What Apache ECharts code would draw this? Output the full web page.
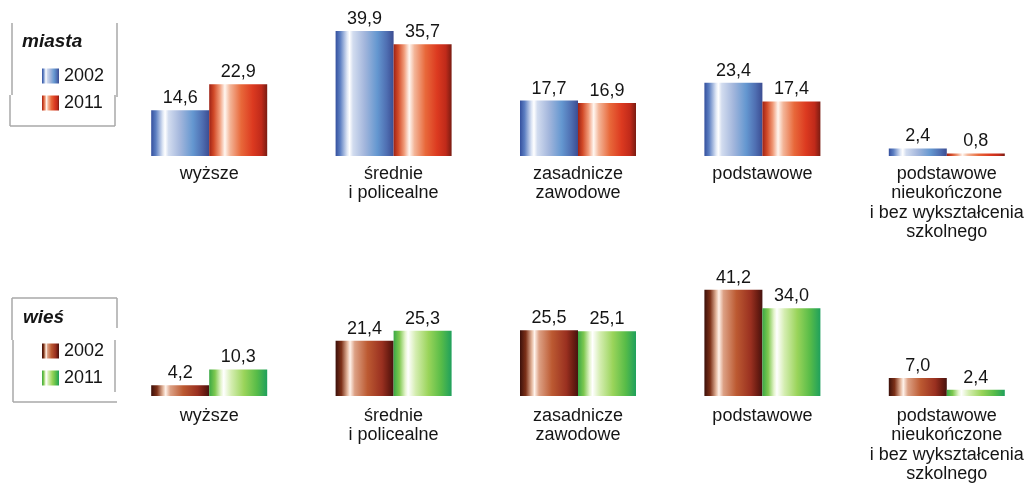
<!DOCTYPE html>
<html>
<head>
<meta charset="utf-8">
<script src="https://cdn.jsdelivr.net/npm/echarts@6/dist/echarts.min.js"></script>
<style>
html,body{margin:0;padding:0;background:#fff;}
#chart{width:1027px;height:486px;}
</style>
</head>
<body>
<div id="chart"></div>
<script>
const categories = ['wyższe', 'średnie\ni policealne', 'zasadnicze\nzawodowe', 'podstawowe', 'podstawowe\nnieukończone\ni bez wykształcenia\nszkolnego'];
const years = ['2002', '2011'];
const miasta2002 = [14.6, 39.9, 17.7, 23.4, 2.4];
const miasta2011 = [22.9, 35.7, 16.9, 17.4, 0.8];
const wies2002 = [4.2, 21.4, 25.5, 41.2, 7.0];
const wies2011 = [10.3, 25.3, 25.1, 34.0, 2.4];

function grad(stops) {
  return {type: 'linear', x: 0, y: 0, x2: 1, y2: 0,
    colorStops: stops.map(s => ({offset: s[0], color: s[1]}))};
}
const blue = grad([[0,'#34509e'],[0.08,'#5d7fc2'],[0.2,'#dfe7f5'],[0.24,'#ffffff'],[0.3,'#d2dcef'],[0.5,'#a3b6dc'],[0.72,'#6497d0'],[0.88,'#4f6fb2'],[1,'#3c4d92']]);
const red = grad([[0,'#9e2216'],[0.08,'#d24a28'],[0.18,'#f09a78'],[0.27,'#fff6f0'],[0.36,'#f3b598'],[0.55,'#e8683a'],[0.75,'#dc3a20'],[0.9,'#c02a1a'],[1,'#7a1c12']]);
const brown = grad([[0,'#3c100a'],[0.1,'#7c3018'],[0.2,'#e2b49a'],[0.25,'#fff2ea'],[0.33,'#dca084'],[0.55,'#bc5a32'],[0.8,'#9a3020'],[0.92,'#6a1c12'],[1,'#461410']]);
const green = grad([[0,'#3aa844'],[0.1,'#7ec850'],[0.2,'#e4f4cc'],[0.25,'#ffffff'],[0.38,'#d4edb0'],[0.6,'#9ad45a'],[0.82,'#58bc48'],[1,'#1fa05c']]);

const FONT = "'Liberation Sans', Arial, sans-serif";
const fmt = p => p.value.toFixed(1).replace('.', ',');
const labelCfg = {show: true, position: 'top', distance: 3, formatter: fmt,
  fontFamily: FONT, fontSize: 18, color: '#151515'};

function bar(name, data, color, idx) {
  return {name: name, type: 'bar', data: data, xAxisIndex: idx, yAxisIndex: idx,
    barWidth: 58, barGap: '0%', itemStyle: {color: color}, label: labelCfg,
    emphasis: {disabled: true}, animation: false};
}
function xAx(idx, margin) {
  return {type: 'category', gridIndex: idx, data: categories,
    axisLine: {show: false}, axisTick: {show: false},
    axisLabel: {interval: 0, margin: margin, fontFamily: FONT, fontSize: 18,
      lineHeight: 19.5, color: '#151515'}};
}
function yAx(idx) {
  return {type: 'value', gridIndex: idx, min: 0, max: 45, show: false, splitLine: {show: false}};
}
function legend(top, names) {
  return {orient: 'vertical', left: 42, top: top, padding: 0, itemWidth: 17, itemHeight: 15, itemGap: 9,
    icon: 'rect', data: names, formatter: n => n.slice(1),
    textStyle: {fontFamily: FONT, fontSize: 18, color: '#151515'}};
}
const lc = {stroke: '#a8a8a8', lineWidth: 1.5};
function ln(x1, y1, x2, y2) {
  return {type: 'line', shape: {x1, y1, x2, y2}, style: lc, silent: true};
}

const chart = echarts.init(document.getElementById('chart'), null, {renderer: 'canvas'});
chart.setOption({
  backgroundColor: '#ffffff',
  animation: false,
  grid: [
    {left: 117, width: 922, top: 15, height: 141, outerBoundsMode: 'none', containLabel: false},
    {left: 117, width: 922, top: 280, height: 116, outerBoundsMode: 'none', containLabel: false}
  ],
  xAxis: [xAx(0, 8), xAx(1, 10)],
  yAxis: [yAx(0), yAx(1)],
  legend: [legend(67, ['m2002', 'm2011']), legend(342, ['w2002', 'w2011'])],
  series: [
    bar('m2002', miasta2002, blue, 0),
    bar('m2011', miasta2011, red, 0),
    bar('w2002', wies2002, brown, 1),
    bar('w2011', wies2011, green, 1)
  ],
  graphic: [
    {type: 'text', left: 22, top: 32, style: {text: 'miasta', font: 'italic bold 19px ' + FONT, fill: '#151515'}},
    {type: 'text', left: 23, top: 308, style: {text: 'wieś', font: 'italic bold 19px ' + FONT, fill: '#151515'}},
    ln(12, 23, 12, 95), ln(117, 23, 117, 97),
    ln(10, 95, 10, 126), ln(10, 126, 115, 126), ln(115, 95, 115, 126),
    ln(12, 298, 117, 298), ln(12, 298, 12, 340), ln(117, 298, 117, 328),
    ln(13, 340, 13, 402), ln(13, 402, 117, 402), ln(115, 340, 115, 392)
  ]
});
</script>
</body>
</html>
